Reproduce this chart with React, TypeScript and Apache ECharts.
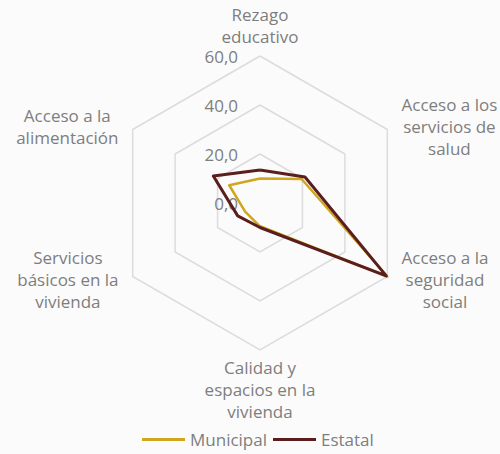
import React, { useEffect, useRef } from "react";
import * as echarts from "echarts";

// Indicators in counter-clockwise display order (ECharts default), starting at top
const indicatorNames = [
  "Rezago\neducativo",
  "Acceso a la\nalimentación",
  "Servicios\nbásicos en la\nvivienda",
  "Calidad y\nespacios en la\nvivienda",
  "Acceso a la\nseguridad\nsocial",
  "Acceso a los\nservicios de\nsalud",
];
const axisMax = 60;
const municipal = [10, 14.5, 7, 9.5, 60, 19.6];
const estatal = [13.5, 22, 10.5, 10, 59.5, 21.2];
const seriesNames = ["Municipal", "Estatal"];
const colors = ["#CFA61E", "#5A1E1E"];

export default function App() {
  const ref = useRef<HTMLDivElement>(null);
  useEffect(() => {
    document.body.style.margin = "0";
    const chart = echarts.init(ref.current!, null, { renderer: "svg" });
    const textColor = "#7e7e7e";
    const fs = 17;
    const sideKey = (i: number) => (i === 0 || i === 3 ? "c" : i === 1 || i === 2 ? "l" : "r");
    const gaps = [7, 6, 6, 6, 6, 6];
    const base = { align: "center", color: textColor, fontSize: fs, lineHeight: 22, fontFamily: "Open Sans" };
    chart.setOption({
      animation: false,
      backgroundColor: "#fbfbfb",
      textStyle: { fontFamily: "Open Sans" },
      legend: {
        bottom: 1,
        left: 137,
        itemWidth: 43,
        itemHeight: 3,
        itemGap: 6,
        icon: "rect",
        textStyle: { color: textColor, fontSize: fs, fontFamily: "Open Sans" },
        data: seriesNames,
      },
      radar: {
        center: [260, 203],
        radius: 147,
        splitNumber: 3,
        shape: "polygon",
        axisName: {
          color: textColor,
          fontSize: fs,
          fontFamily: "Open Sans",
          lineHeight: 22,
          formatter: (name: string) => {
            const k = sideKey(indicatorNames.indexOf(name));
            return name
              .split("\n")
              .map((l) => `{${k}|${l}}`)
              .join("\n");
          },
          rich: {
            c: { ...base },
            l: { ...base, padding: [0, 9, 0, 0] },
            r: { ...base, padding: [0, 0, 0, 9] },
          },
        },
        nameGap: 7,
        axisLine: { show: false },
        axisTick: { show: false },
        axisLabel: { show: false },
        splitLine: { lineStyle: { color: "#dcdcdc", width: 1.5 } },
        splitArea: { show: false },
        indicator: indicatorNames.map((n, i) => ({
          name: n,
          min: 0,
          max: axisMax,
          nameGap: gaps[i],
          ...(i === 0
            ? {
                axisLabel: {
                  show: true,
                  color: textColor,
                  fontSize: fs,
                  margin: 22,
                  fontFamily: "Open Sans",
                  formatter: (v: number) => v.toFixed(1).replace(".", ","),
                },
              }
            : {}),
        })),
      },
      series: [
        {
          type: "radar",
          symbol: "none",
          data: [
            {
              name: seriesNames[0],
              value: municipal,
              lineStyle: { color: colors[0], width: 2.5 },
              itemStyle: { color: colors[0] },
            },
            {
              name: seriesNames[1],
              value: estatal,
              lineStyle: { color: colors[1], width: 3 },
              itemStyle: { color: colors[1] },
            },
          ],
        },
      ],
    });
    return () => chart.dispose();
  }, []);
  return <div ref={ref} style={{ width: 500, height: 454 }} />;
}
